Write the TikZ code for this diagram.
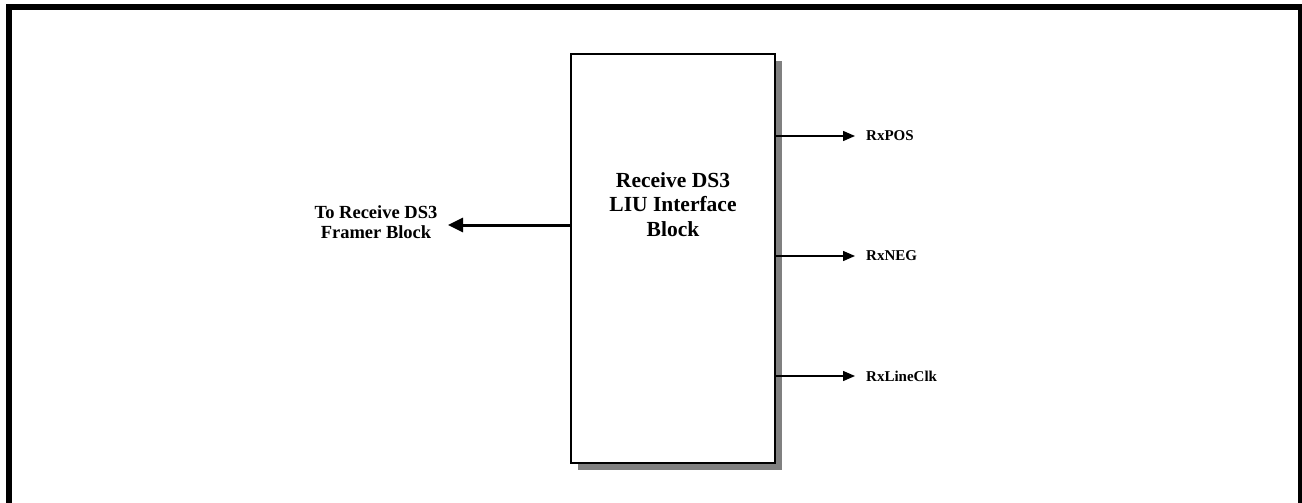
\documentclass[tikz,border=0pt]{standalone}
\usepackage{fontspec}
\setmainfont{Liberation Serif}
\usetikzlibrary{arrows.meta,shadows}
\tikzset{
  blk/.style={draw=black,line width=1.5pt,fill=white,minimum width=204pt,minimum height=409pt,
    drop shadow={shadow xshift=7pt,shadow yshift=-7pt,fill=black!50,opacity=1}},
  blktxt/.style={font=\fontsize{21.5}{24.5}\selectfont\bfseries,align=center,inner sep=0pt},
  sig/.style={line width=1.4pt,-{Triangle[length=12pt,width=10pt]},shorten >=11pt},
  bus/.style={line width=3pt,-{Triangle[length=15pt,width=14pt]}},
  siglab/.style={anchor=west,inner sep=0pt,font=\fontsize{15}{17}\selectfont\bfseries},
}
\begin{document}
\begin{tikzpicture}[x=1pt,y=-1pt]
\useasboundingbox (0,0) rectangle (1302,503);
\clip (0,0) rectangle (1302,503);
% outer frame
\draw[line width=6pt] (9,7) rectangle (1301,530);
% the block
\node[blk,label={[blktxt,name=liutxt,yshift=54pt]center:Receive DS3\\LIU Interface\\Block}] (liu) at (673,258.5) {};
% outputs
\node[siglab] (rxpos) at (866,136) {RxPOS};
\node[siglab] (rxneg) at (866,256) {RxNEG};
\node[siglab] (rxclk) at (866,376) {RxLineClk};
\draw[sig] (liu.east |- rxpos.west) -- (rxpos.west);
\draw[sig] (liu.east |- rxneg.west) -- (rxneg.west);
\draw[sig] (liu.east |- rxclk.west) -- (rxclk.west);
% to framer
\node[align=center,inner sep=0pt,font=\fontsize{18.5}{20.5}\selectfont\bfseries] (framer) at (376,222) {To Receive DS3\\Framer Block};
\coordinate (tofr) at (448,225);
\draw[bus] (liu.west |- tofr) -- (tofr);
\end{tikzpicture}
\end{document}
